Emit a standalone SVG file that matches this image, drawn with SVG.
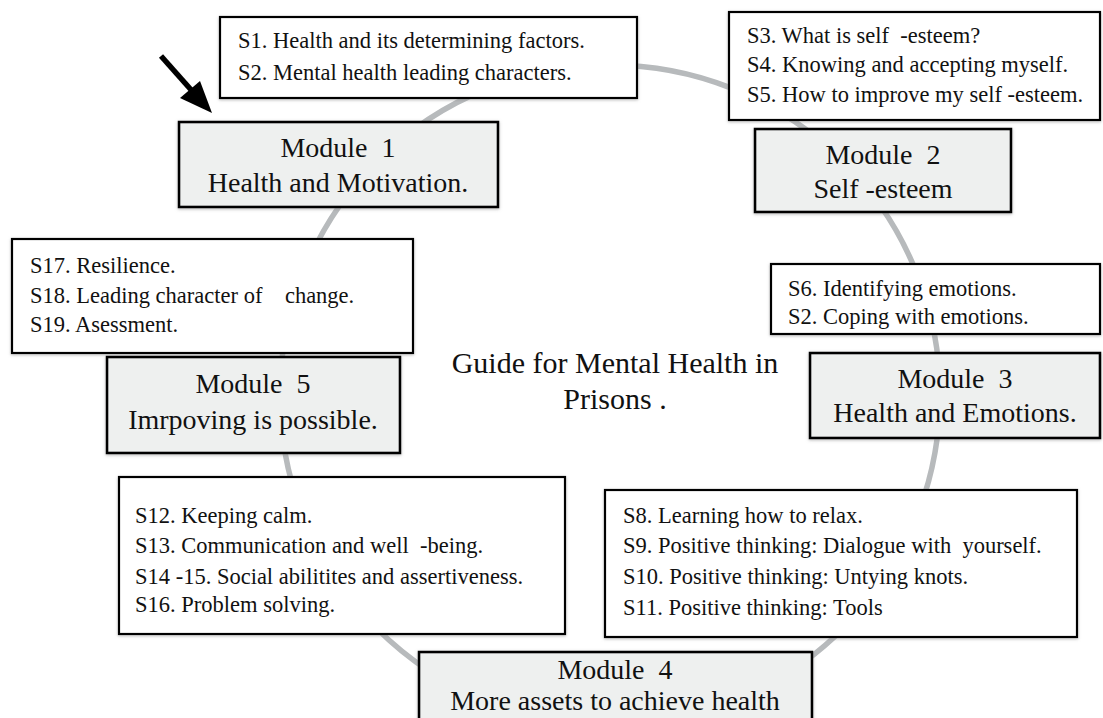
<svg xmlns="http://www.w3.org/2000/svg" width="1103" height="718" viewBox="0 0 1103 718">
<style>
text{font-family:"Liberation Serif","DejaVu Serif",serif;fill:#111;white-space:pre}
.s{font-size:22.5px}
.m{font-size:28px;text-anchor:middle}
.t{font-size:30px;text-anchor:middle}
.sb{fill:#fff;stroke:#000;stroke-width:2.2;filter:url(#sh)}
.mb{fill:#eef0ef;stroke:#000;stroke-width:2.6;filter:url(#sh)}
.ring{fill:none;stroke:#b7babc;stroke-width:5.5}
</style>
<defs>
<filter id="sh" x="-10%" y="-10%" width="120%" height="120%">
<feDropShadow dx="0" dy="1" stdDeviation="1.6" flood-color="#888" flood-opacity="0.6"/>
</filter>
</defs>
<rect width="1103" height="718" fill="#fff"/>
<g id="connectors">
<circle class="ring" cx="610" cy="395" r="330"/>
<line x1="161" y1="56" x2="193" y2="92" stroke="#000" stroke-width="5.5"/>
<polygon points="212,113 180,98 200,81" fill="#000"/>
</g>
<g id="s1">
<rect class="sb" x="220" y="17" width="417" height="81"/>
<text class="s" x="238" y="48">S1. Health and its determining factors.</text>
<text class="s" x="238" y="80">S2. Mental health leading characters.</text>
</g>
<g id="module1">
<rect class="mb" x="179" y="122" width="319" height="85"/>
<text class="m" x="338" y="157">Module  1</text>
<text class="m" x="338" y="192">Health and Motivation.</text>
</g>
<g id="s3">
<rect class="sb" x="729" y="12" width="371" height="108"/>
<text class="s" x="747" y="43">S3. What is self  -esteem?</text>
<text class="s" x="747" y="72">S4. Knowing and accepting myself.</text>
<text class="s" x="747" y="102">S5. How to improve my self -esteem.</text>
</g>
<g id="module2">
<rect class="mb" x="755" y="129" width="256" height="83"/>
<text class="m" x="883" y="164">Module  2</text>
<text class="m" x="883" y="198">Self -esteem</text>
</g>
<g id="s17">
<rect class="sb" x="12" y="239" width="401" height="114"/>
<text class="s" x="30" y="273">S17. Resilience.</text>
<text class="s" x="30" y="303">S18. Leading character of    change.</text>
<text class="s" x="30" y="332">S19. Asessment.</text>
</g>
<g id="module5">
<rect class="mb" x="107" y="357" width="293" height="96"/>
<text class="m" x="253" y="393">Module  5</text>
<text class="m" x="253" y="429">Imrpoving is possible.</text>
</g>
<g id="title">
<text class="t" x="615" y="373">Guide for Mental Health in</text>
<text class="t" x="615" y="409">Prisons .</text>
</g>
<g id="s6">
<rect class="sb" x="771" y="264" width="329" height="70"/>
<text class="s" x="788" y="296">S6. Identifying emotions.</text>
<text class="s" x="788" y="324">S2. Coping with emotions.</text>
</g>
<g id="module3">
<rect class="mb" x="810" y="353" width="290" height="85"/>
<text class="m" x="955" y="388">Module  3</text>
<text class="m" x="955" y="422">Health and Emotions.</text>
</g>
<g id="s12">
<rect class="sb" x="119" y="477" width="446" height="157"/>
<text class="s" x="135" y="523">S12. Keeping calm.</text>
<text class="s" x="135" y="553">S13. Communication and well  -being.</text>
<text class="s" x="135" y="584">S14 -15. Social abilitites and assertiveness.</text>
<text class="s" x="135" y="612">S16. Problem solving.</text>
</g>
<g id="s8">
<rect class="sb" x="605" y="490" width="472" height="147"/>
<text class="s" x="623" y="523">S8. Learning how to relax.</text>
<text class="s" x="623" y="553">S9. Positive thinking: Dialogue with  yourself.</text>
<text class="s" x="623" y="584">S10. Positive thinking: Untying knots.</text>
<text class="s" x="623" y="615">S11. Positive thinking: Tools</text>
</g>
<g id="module4">
<rect class="mb" x="419" y="652" width="393" height="80"/>
<text class="m" x="615" y="679" font-size="26">Module  4</text>
<text class="m" x="615" y="710" font-size="26">More assets to achieve health</text>
</g>
</svg>
